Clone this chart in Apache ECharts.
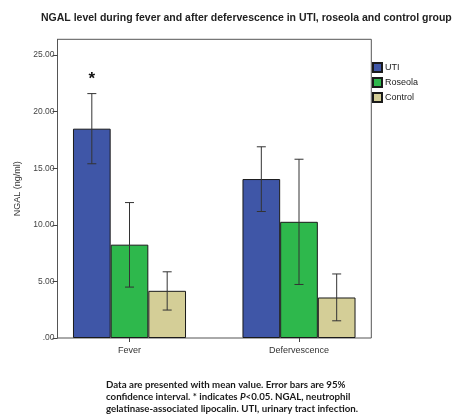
<!DOCTYPE html>
<html>
<head>
<meta charset="utf-8">
<script src="https://cdn.jsdelivr.net/npm/echarts@6/dist/echarts.min.js"></script>
<style>
html,body{margin:0;padding:0;background:#fff;}
#chart{width:454px;height:415px;}
</style>
</head>
<body>
<div id="chart"></div>
<script>
// ---- data ----
var categories = ['Fever', 'Defervescence'];
var groups = ['UTI', 'Roseola', 'Control'];
var utiMean = [18.5, 14.05];
var roseolaMean = [8.25, 10.27];
var controlMean = [4.17, 3.58];
var utiLow = [15.4, 11.18];
var utiHigh = [21.6, 16.9];
var roseolaLow = [4.5, 4.73];
var roseolaHigh = [11.97, 15.8];
var controlLow = [2.47, 1.52];
var controlHigh = [5.85, 5.66];
var yTicks = [0, 5, 10, 15, 20, 25];
var sigMarks = [[0, 0, 22.85]]; // [category index, group index, y position]

var colors = ['#3f56a7', '#2eb84c', '#d4ce97'];
var means = [utiMean, roseolaMean, controlMean];
var lows = [utiLow, roseolaLow, controlLow];
var highs = [utiHigh, roseolaHigh, controlHigh];

var errData = [];
for (var g = 0; g < 3; g++) {
  for (var c = 0; c < categories.length; c++) {
    errData.push([c, lows[g][c], highs[g][c], g]);
  }
}

var YMAX = 26.4;
var CAT_GAP = 0.333;
var FONT = '"Liberation Sans", Arial, sans-serif';

var chart = echarts.init(document.getElementById('chart'), null, {renderer: 'canvas'});

var series = [];
for (var i = 0; i < 3; i++) {
  series.push({
    name: groups[i],
    type: 'bar',
    xAxisIndex: 0,
    yAxisIndex: 0,
    data: means[i],
    barGap: '0%',
    barCategoryGap: (CAT_GAP * 100) + '%',
    itemStyle: {color: colors[i], borderColor: '#1a1a1a', borderWidth: 1},
    emphasis: {disabled: true},
    z: 2
  });
}

function barCenter(api, cat) {
  var band = api.size([1, 0])[0];
  var bw = band * (1 - CAT_GAP) / 3;
  return {x: api.coord([cat, 0])[0], bw: bw};
}

series.push({
  type: 'custom',
  xAxisIndex: 0,
  yAxisIndex: 0,
  data: errData,
  z: 5,
  renderItem: function (params, api) {
    var cat = api.value(0), lo = api.value(1), hi = api.value(2), g = api.value(3);
    var b = barCenter(api, cat);
    var cx = b.x + (g - 1) * b.bw;
    var yLo = api.coord([cat, lo])[1];
    var yHi = api.coord([cat, hi])[1];
    var hw = 4.5;
    var st = {stroke: '#333', lineWidth: 1};
    return {
      type: 'group',
      children: [
        {type: 'line', shape: {x1: cx, y1: yLo, x2: cx, y2: yHi}, style: st},
        {type: 'line', shape: {x1: cx - hw, y1: yLo, x2: cx + hw, y2: yLo}, style: st},
        {type: 'line', shape: {x1: cx - hw, y1: yHi, x2: cx + hw, y2: yHi}, style: st}
      ]
    };
  }
});

series.push({
  type: 'custom',
  xAxisIndex: 0,
  yAxisIndex: 0,
  data: sigMarks,
  z: 5,
  renderItem: function (params, api) {
    var cat = api.value(0), g = api.value(1), yv = api.value(2);
    var b = barCenter(api, cat);
    var cx = b.x + (g - 1) * b.bw;
    var cy = api.coord([cat, yv])[1];
    return {
      type: 'text',
      x: cx, y: cy,
      style: {text: '*', fill: '#111', font: 'bold 17px ' + FONT, align: 'center', verticalAlign: 'middle'}
    };
  }
});

var option = {
  backgroundColor: '#ffffff',
  animation: false,
  title: [
    {
      text: 'NGAL level during fever and after defervescence in UTI, roseola and control group',
      left: 41, top: 13, padding: 0,
      textStyle: {fontSize: 10.5, fontWeight: 'bold', color: '#222', fontFamily: FONT}
    },
    {
      text: 'Data are presented with mean value. Error bars are 95%\nconfidence interval. * indicates {i|P}<0.05. NGAL, neutrophil\ngelatinase-associated lipocalin. UTI, urinary tract infection.',
      left: 106, top: 379, padding: 0,
      textStyle: {
        fontSize: 9.7, fontWeight: 'bold', color: '#1a1a1a', fontFamily: 'Lato, sans-serif', lineHeight: 12,
        rich: {i: {fontStyle: 'italic', fontWeight: 'bold', fontSize: 9.7, fontFamily: 'Lato, sans-serif', color: '#1a1a1a', lineHeight: 12}}
      }
    }
  ],
  legend: {
    data: groups,
    orient: 'vertical',
    left: 372, top: 62, padding: 0,
    itemWidth: 9, itemHeight: 9, itemGap: 4,
    icon: 'rect',
    textStyle: {fontSize: 9, color: '#222', fontFamily: FONT, padding: [0, 0, 0, -2]},
    selectedMode: false
  },
  grid: [
    {left: 44.75, right: 70.25, top: 39.3, bottom: 77, containLabel: false},
    {left: 57.5, right: 82.7, top: 39.3, bottom: 77, containLabel: false, show: true, borderColor: '#555', borderWidth: 1, backgroundColor: 'transparent'}
  ],
  xAxis: [
    {
      type: 'category', gridIndex: 0, data: categories,
      axisLine: {show: false},
      axisTick: {show: true, alignWithLabel: true, length: 4, lineStyle: {color: '#444'}},
      axisLabel: {fontSize: 9, color: '#333', fontFamily: FONT, margin: 8}
    },
    {type: 'value', gridIndex: 1, min: 0, max: 1, show: false}
  ],
  yAxis: [
    {type: 'value', gridIndex: 0, min: 0, max: YMAX, show: false},
    {
      type: 'value', gridIndex: 1, min: 0, max: YMAX, interval: 5,
      name: 'NGAL (ng/ml)', nameLocation: 'middle', nameGap: 33,
      nameTextStyle: {fontSize: 9, color: '#333', fontFamily: FONT},
      axisLine: {show: true, lineStyle: {color: '#555'}},
      axisTick: {show: true, length: 5, lineStyle: {color: '#444'}, customValues: yTicks},
      axisLabel: {
        fontSize: 8.5, color: '#444', fontFamily: FONT, margin: 3, customValues: yTicks,
        formatter: function (v) { return v === 0 ? '.00' : v.toFixed(2); }
      },
      splitLine: {show: false}
    }
  ],
  series: series
};
chart.setOption(option);
</script>
</body>
</html>
